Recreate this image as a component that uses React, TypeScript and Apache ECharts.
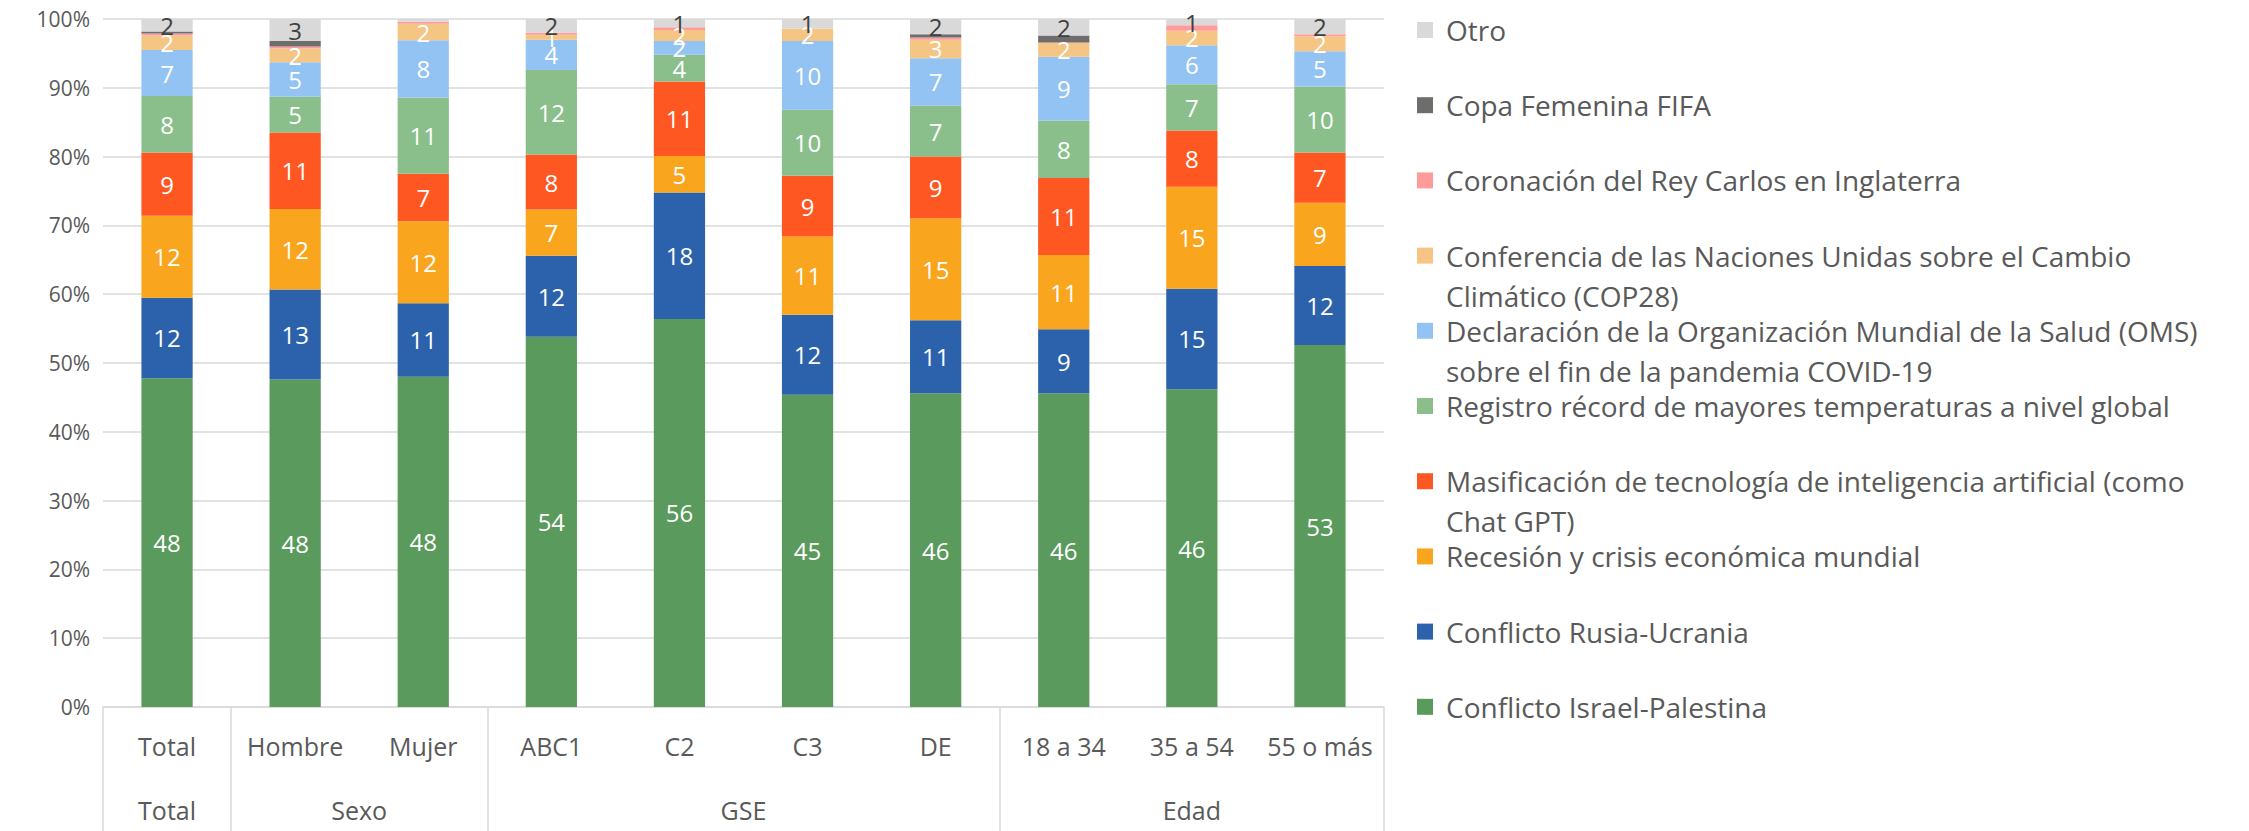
import React, { useEffect, useRef } from "react";
import * as echarts from "echarts";

const categories = ["Total", "Hombre", "Mujer", "ABC1", "C2", "C3", "DE", "18 a 34", "35 a 54", "55 o más"];
const groupNames = ["Total", "Sexo", "GSE", "Edad"];
const groupSizes = [1, 2, 4, 3];

const seriesNames = [
  "Conflicto Israel-Palestina",
  "Conflicto Rusia-Ucrania",
  "Recesión y crisis económica mundial",
  "Masificación de tecnología de inteligencia artificial (como Chat GPT)",
  "Registro récord de mayores temperaturas a nivel global",
  "Declaración de la Organización Mundial de la Salud (OMS) sobre el fin de la pandemia COVID-19",
  "Conferencia de las Naciones Unidas sobre el Cambio Climático (COP28)",
  "Coronación del Rey Carlos en Inglaterra",
  "Copa Femenina FIFA",
  "Otro",
];
const legendLines = [
  ["Conflicto Israel-Palestina"],
  ["Conflicto Rusia-Ucrania"],
  ["Recesión y crisis económica mundial"],
  ["Masificación de tecnología de inteligencia artificial (como", "Chat GPT)"],
  ["Registro récord de mayores temperaturas a nivel global"],
  ["Declaración de la Organización Mundial de la Salud (OMS)", "sobre el fin de la pandemia COVID-19"],
  ["Conferencia de las Naciones Unidas sobre el Cambio", "Climático (COP28)"],
  ["Coronación del Rey Carlos en Inglaterra"],
  ["Copa Femenina FIFA"],
  ["Otro"],
];

const israel = [47.8, 47.6, 48.0, 53.8, 56.4, 45.4, 45.6, 45.6, 46.2, 52.6];
const rusia = [11.7, 13.1, 10.7, 11.8, 18.4, 11.6, 10.6, 9.3, 14.6, 11.5];
const recesion = [11.9, 11.7, 11.9, 6.7, 5.3, 11.4, 14.8, 10.8, 14.8, 9.2];
const ia = [9.2, 11.1, 6.9, 8.0, 10.8, 8.8, 9.0, 11.2, 8.2, 7.3];
const registro = [8.2, 5.2, 11.1, 12.3, 3.9, 9.6, 7.4, 8.3, 6.7, 9.6];
const oms = [6.7, 5.0, 8.3, 4.4, 2.0, 10.0, 6.9, 9.3, 5.7, 5.1];
const cop28 = [2.1, 2.0, 2.4, 0.7, 1.6, 1.8, 2.7, 2.0, 2.1, 2.2];
const rey = [0.3, 0.3, 0.3, 0.3, 0.4, 0, 0.3, 0.1, 0.8, 0.3];
const copa = [0.3, 0.8, 0, 0, 0, 0, 0.5, 1.0, 0, 0];
const otro = [1.8, 3.2, 0.4, 2.0, 1.2, 1.4, 2.2, 2.4, 0.9, 2.2];

const seriesValues = [israel, rusia, recesion, ia, registro, oms, cop28, rey, copa, otro];
const colors = ["#5A9A5D", "#2C62AC", "#F9A51E", "#FE5722", "#8ABF8C", "#93C3F2", "#F5C584", "#FF9B9B", "#6F6C6C", "#D9D9D9"];
const labelColors = ["#FFFFFF", "#FFFFFF", "#FFFFFF", "#FFFFFF", "#FFFFFF", "#FFFFFF", "#FFFFFF", "#FFFFFF", "#FFFFFF", "#404040"];
const showLabels = [true, true, true, true, true, true, true, false, false, true];

const FONT = "Open Sans";
const TEXT = "#595959";
const GRID = "#D9D9D9";

export default function App() {
  const ref = useRef<HTMLDivElement>(null);
  useEffect(() => {
    if (!ref.current) return;
    const chart = echarts.init(ref.current, null, { renderer: "svg" });

    // group axis: half-category slots (21 points, boundaryGap false)
    const boundarySlots: number[] = [0];
    const labelSlots: number[] = [];
    let acc = 0;
    groupSizes.forEach((s) => {
      labelSlots.push(acc * 2 + s);
      acc += s;
      boundarySlots.push(acc * 2);
    });
    const groupAxisData: string[] = [];
    for (let k = 0; k <= categories.length * 2; k++) {
      const gi = labelSlots.indexOf(k);
      groupAxisData.push(gi >= 0 ? groupNames[gi] : "");
    }

    const n = seriesNames.length;
    const LH = 40;
    const legends = seriesNames.map((name, i) => {
      const rank = n - 1 - i;
      const lines = legendLines[i];
      const twoLine = lines.length > 1;
      const cy = 30 + rank * 75.2;
      // for two-line entries, a blank leading line keeps the icon aligned with the first line
      const text = twoLine ? "\n" + lines.join("\n") : lines[0];
      return {
        orient: "vertical",
        left: 1417,
        top: cy - (twoLine ? 1.5 * LH : 0.5 * LH),
        padding: 0,
        itemWidth: 16,
        itemHeight: 16,
        icon: "rect",
        selectedMode: false,
        data: [name],
        formatter: () => text,
        textStyle: {
          fontFamily: FONT,
          fontSize: 28,
          lineHeight: LH,
          color: TEXT,
          padding: [0, 0, 0, 8],
        },
      };
    });

    chart.setOption({
      animation: false,
      textStyle: { fontFamily: FONT },
      color: colors,
      legend: legends,
      grid: { left: 103, right: 865, top: 19, bottom: 124, containLabel: false },
      xAxis: [
        {
          type: "category",
          data: categories,
          position: "bottom",
          axisLine: { show: true, lineStyle: { color: GRID, width: 1.5 } },
          axisTick: { show: false },
          axisLabel: { color: TEXT, fontSize: 25, margin: 26, interval: 0, fontFamily: FONT },
        },
        {
          type: "category",
          data: groupAxisData,
          boundaryGap: false,
          position: "bottom",
          offset: 0,
          axisLine: { show: false },
          axisTick: {
            show: true,
            length: 124,
            interval: (idx: number) => boundarySlots.includes(idx),
            lineStyle: { color: GRID, width: 1.5 },
          },
          axisLabel: {
            color: TEXT,
            fontSize: 25,
            margin: 90,
            interval: 0,
            fontFamily: FONT,
          },
        },
      ],
      yAxis: {
        type: "value",
        min: 0,
        max: 100,
        interval: 10,
        axisLine: { show: false },
        axisTick: { show: false },
        axisLabel: { formatter: "{value}%", color: TEXT, fontSize: 21, margin: 13, fontFamily: FONT },
        splitLine: { lineStyle: { color: GRID, width: 1.5 } },
      },
      series: seriesNames.map((name, i) => ({
        name,
        type: "bar",
        stack: "total",
        xAxisIndex: 0,
        barWidth: "40%",
        data: seriesValues[i],
        itemStyle: { color: colors[i] },
        emphasis: { disabled: true },
        label: {
          show: showLabels[i],
          position: "inside",
          color: labelColors[i],
          fontSize: 24,
          fontFamily: FONT,
          formatter: (p: any) => (p.value >= 0.5 ? String(Math.round(p.value)) : ""),
        },
      })),
    });
    return () => chart.dispose();
  }, []);
  return (
    <div
      ref={ref}
      style={{ position: "fixed", left: 0, top: 0, width: 2249, height: 831, background: "#fff" }}
    />
  );
}
